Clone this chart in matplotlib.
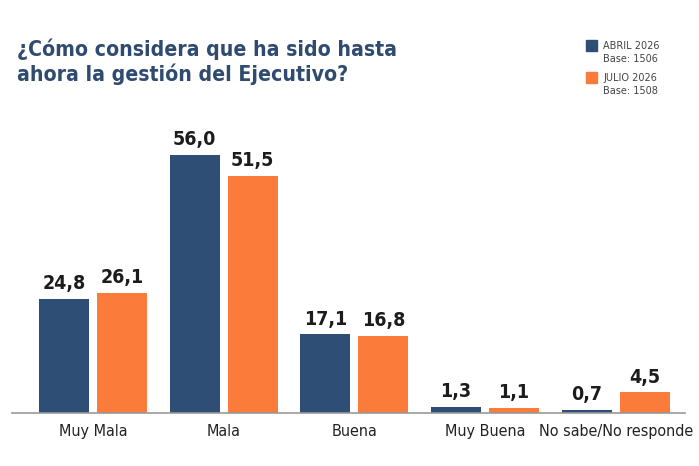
import matplotlib
matplotlib.use("Agg")
import matplotlib.pyplot as plt
import numpy as np

categories = ["Muy Mala", "Mala", "Buena", "Muy Buena", "No sabe/No responde"]
abril = [24.8, 56.0, 17.1, 1.3, 0.7]
julio = [26.1, 51.5, 16.8, 1.1, 4.5]
series_names = ["ABRIL 2026", "JULIO 2026"]
bases = ["Base: 1506", "Base: 1508"]
title = "¿Cómo considera que ha sido hasta\nahora la gestión del Ejecutivo?"

BLUE = "#2f4e75"
ORANGE = "#fb7b3a"
NAVY = "#2f4b70"

fig = plt.figure(figsize=(6.99, 4.66), dpi=100)
ax = fig.add_axes([12/699, 1-413/466, (685-12)/699, (413-120)/466])

x = np.arange(len(categories))
w = 0.383
off = 0.222
b1 = ax.bar(x - off, abril, w, color=BLUE)
b2 = ax.bar(x + off, julio, w, color=ORANGE)

fmt = lambda v: f"{v:.1f}".replace(".", ",")
for bars, vals in ((b1, abril), (b2, julio)):
    for r, v in zip(bars, vals):
        ax.annotate(fmt(v), (r.get_x() + r.get_width()/2, r.get_height()),
                    xytext=(0, 4), textcoords="offset points",
                    ha="center", va="bottom", fontsize=14, fontweight="bold",
                    color="#1c1c1c", family="DejaVu Sans", fontstretch="condensed")

ax.set_xlim(-0.62, 4.53)
ax.set_ylim(0, 63.6)
ax.set_xticks(x)
ax.set_xticklabels(categories, fontsize=11.5, color="#222222", family="DejaVu Sans",
                   fontstretch="condensed")
ax.tick_params(axis="x", length=0, pad=8)
ax.set_yticks([])
for s in ("top", "right", "left"):
    ax.spines[s].set_visible(False)
ax.spines["bottom"].set_color("#999999")
ax.spines["bottom"].set_linewidth(1.2)

fig.text(17/699, 1-38/466, title, ha="left", va="top", fontsize=15.2, fontweight="bold",
         color=NAVY, family="DejaVu Sans", fontstretch="condensed", linespacing=1.22)

# legend
for i, (name, base, col) in enumerate(zip(series_names, bases, [BLUE, ORANGE])):
    y0 = 40 + i*32
    fig.patches.append(plt.Rectangle((586/699, 1-(y0+11)/466), 11/699, 11/466,
                                     transform=fig.transFigure, color=col))
    fig.text(603/699, 1-(y0+1)/466, name, ha="left", va="top", fontsize=7, color="#444444")
    fig.text(603/699, 1-(y0+14)/466, base, ha="left", va="top", fontsize=7, color="#444444")

fig.savefig("out.png", dpi=100, facecolor="white")
